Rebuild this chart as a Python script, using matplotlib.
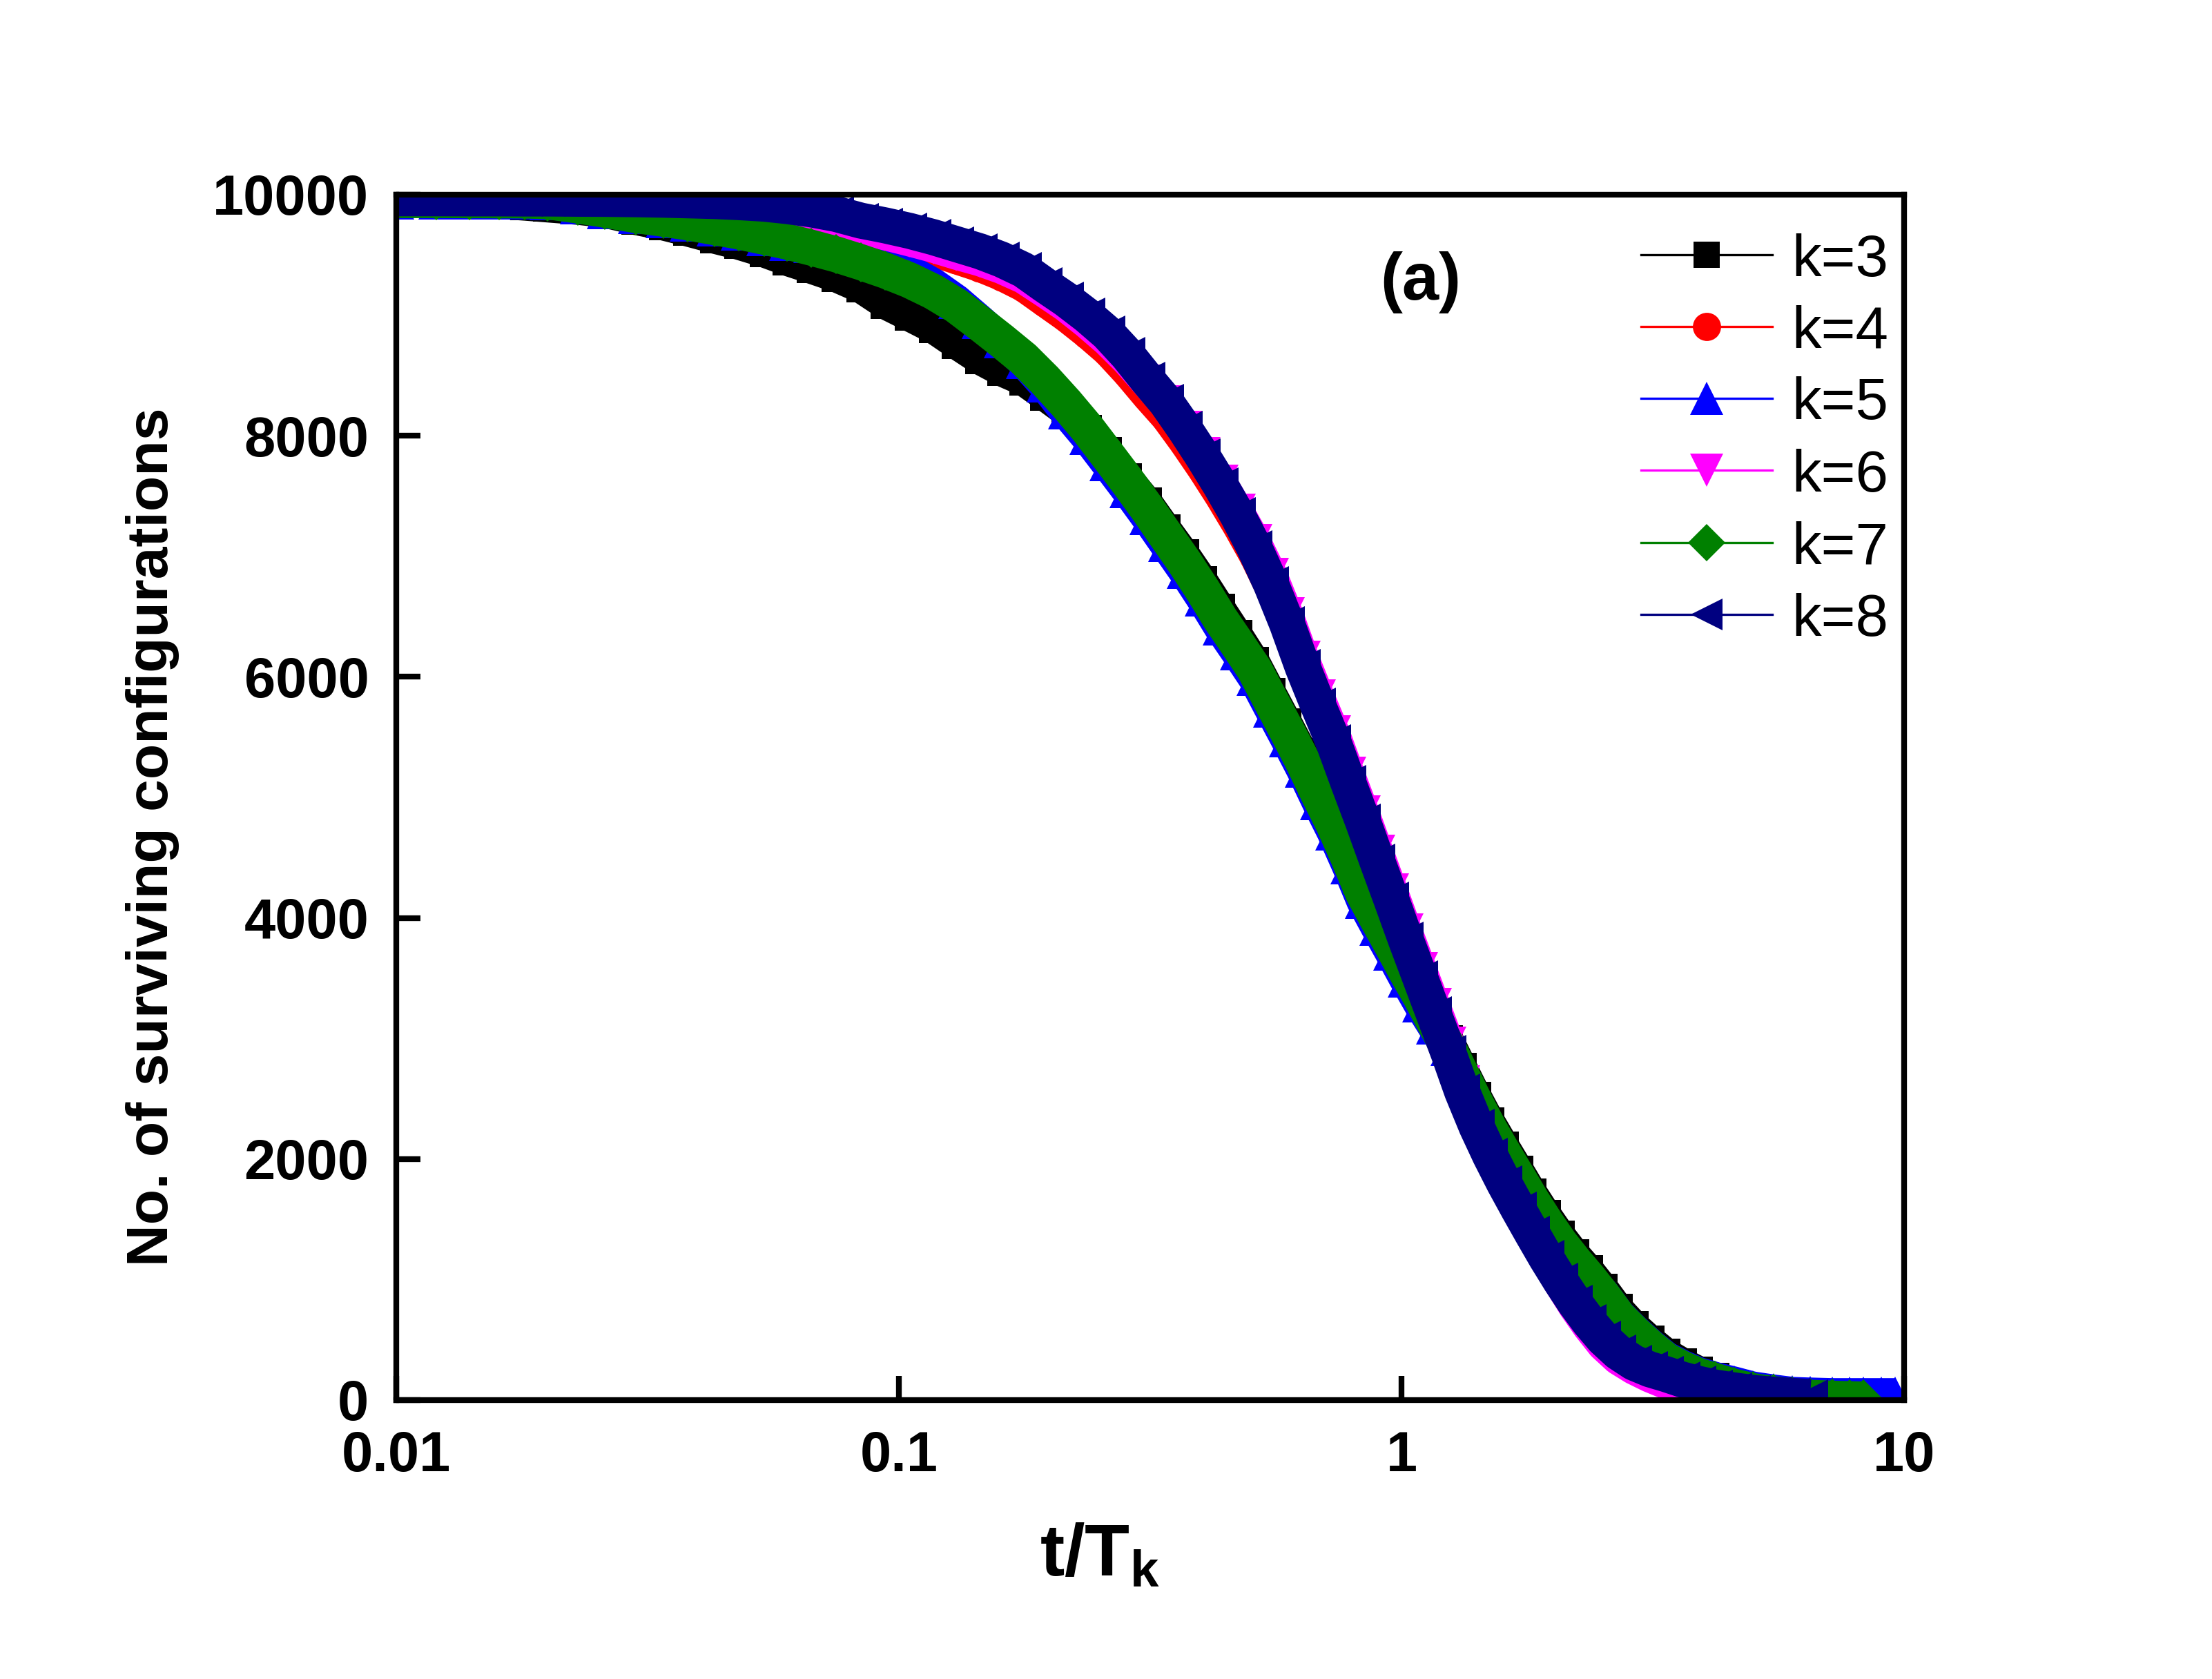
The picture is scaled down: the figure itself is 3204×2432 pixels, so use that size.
import matplotlib
matplotlib.use("Agg")
import matplotlib.pyplot as plt
from matplotlib.lines import Line2D
from matplotlib.ticker import NullLocator

plt.rcParams['font.family'] = ['Liberation Sans', 'DejaVu Sans']
plt.rcParams['mathtext.fontset'] = 'custom'
plt.rcParams['mathtext.rm'] = 'Liberation Sans'
plt.rcParams['mathtext.it'] = 'Liberation Sans:italic'
plt.rcParams['mathtext.bf'] = 'Liberation Sans:bold'

# ---------------- data ----------------
t_over_T = [0.010, 0.012, 0.014, 0.016, 0.018, 0.020, 0.023, 0.026, 0.030, 0.034,
            0.038, 0.043, 0.048, 0.054, 0.060, 0.067, 0.075, 0.084, 0.094, 0.105,
            0.117, 0.130, 0.145, 0.160, 0.177, 0.195, 0.215, 0.237, 0.260, 0.285,
            0.312, 0.340, 0.370, 0.402, 0.436, 0.472, 0.510, 0.550, 0.592, 0.636,
            0.683, 0.732, 0.784, 0.838, 0.895, 0.955, 1.02, 1.09, 1.16, 1.24,
            1.32, 1.41, 1.50, 1.60, 1.71, 1.82, 1.94, 2.07, 2.21, 2.36,
            2.52, 2.70, 2.90, 3.12, 3.36, 3.62, 3.90, 4.2, 4.6, 5.0,
            5.5, 6.0, 6.5, 7.2, 7.8, 8.3, 9.0, 9.6]

k3 = [9950, 9945, 9935, 9925, 9910, 9895, 9875, 9850, 9790, 9745,
      9695, 9635, 9585, 9520, 9450, 9385, 9315, 9225, 9090, 8990,
      8890, 8760, 8630, 8535, 8455, 8330, 8200, 8050, 7870, 7650,
      7450, 7230, 7020, 6800, 6570, 6350, 6130, 5870, 5620, 5370,
      5100, 4850, 4570, 4280, 4060, 3850, 3630, 3420, 3210, 2990,
      2760, 2520, 2310, 2110, 1910, 1720, 1540, 1370, 1215, 1080,
      930, 760, 620, 500, 390, 310, 240, 190, 130, 90]

k4 = [9950, 9950, 9949, 9949, 9948, 9948, 9946, 9945, 9942, 9938,
      9933, 9927, 9918, 9905, 9885, 9838, 9775, 9700, 9645, 9590,
      9528, 9465, 9400, 9327, 9235, 9110, 8985, 8845, 8700, 8520,
      8325, 8150, 7940, 7720, 7490, 7250, 7000, 6720, 6410, 6070,
      5750, 5450, 5110, 4790, 4460, 4140, 3810, 3490, 3190, 2870,
      2550, 2260, 2020, 1780, 1555, 1360, 1160, 960, 775, 610,
      470, 355, 275, 215, 170, 125, 90, 60]

k5 = [9945, 9945, 9944, 9943, 9942, 9935, 9900, 9865, 9820, 9790,
      9760, 9720, 9685, 9640, 9600, 9580, 9555, 9510, 9450, 9365,
      9255, 9120, 8950, 8790, 8620, 8425, 8200, 7990, 7770, 7550,
      7325, 7100, 6880, 6650, 6410, 6200, 5990, 5730, 5480, 5230,
      4960, 4710, 4430, 4140, 3920, 3710, 3490, 3280, 3100, 2920,
      2690, 2450, 2240, 2040, 1840, 1650, 1470, 1300, 1150, 1010,
      880, 710, 580, 460, 350, 280, 220, 180, 140, 100,
      75, 55, 50, 45, 45, 45, 45, 45]

k6 = [9955, 9955, 9954, 9954, 9953, 9953, 9951, 9950, 9947, 9943,
      9938, 9932, 9923, 9910, 9890, 9848, 9795, 9725, 9675, 9625,
      9573, 9515, 9460, 9397, 9315, 9200, 9080, 8940, 8795, 8630,
      8445, 8270, 8060, 7840, 7610, 7370, 7120, 6840, 6510, 6150,
      5830, 5530, 5190, 4870, 4540, 4220, 3890, 3570, 3270, 2950,
      2630, 2320, 2060, 1820, 1590, 1390, 1170, 970, 780, 610,
      460, 345, 265, 200, 145, 100, 70, 45, 25]

k7 = [9955, 9955, 9954, 9953, 9952, 9945, 9910, 9875, 9830, 9800,
      9770, 9730, 9695, 9650, 9610, 9560, 9505, 9440, 9370, 9290,
      9195, 9080, 8930, 8790, 8640, 8465, 8270, 8060, 7840, 7620,
      7395, 7170, 6950, 6720, 6480, 6270, 6060, 5800, 5550, 5300,
      5030, 4780, 4500, 4210, 3990, 3780, 3560, 3350, 3140, 2920,
      2690, 2450, 2240, 2040, 1840, 1650, 1470, 1300, 1150, 1010,
      860, 690, 560, 440, 330, 260, 200, 160, 110, 75,
      50, 30, 20, 12, 8, 5]

k8 = [9970, 9970, 9969, 9969, 9968, 9968, 9966, 9965, 9962, 9958,
      9953, 9947, 9938, 9925, 9905, 9878, 9840, 9785, 9745, 9700,
      9648, 9590, 9530, 9462, 9375, 9250, 9130, 8995, 8850, 8670,
      8465, 8280, 8060, 7830, 7590, 7340, 7070, 6770, 6440, 6080,
      5760, 5460, 5120, 4800, 4470, 4150, 3820, 3500, 3200, 2880,
      2560, 2270, 2030, 1800, 1580, 1380, 1180, 990, 810, 650,
      510, 395, 310, 255, 215, 170, 135, 105, 80, 60,
      45, 35, 25]

labels = ['k=3', 'k=4', 'k=5', 'k=6', 'k=7', 'k=8']
values = [k3, k4, k5, k6, k7, k8]
colors = ['#000000', '#FF0000', '#0000FF', '#FF00FF', '#008000', '#000080']
markers = ['s', 'o', '^', 'v', 'D', '<']
leg_ms = [9.1, 9.8, 11.5, 11.5, 9.0, 11.0]
data_ms = [10.0, 10.5, 12.5, 12.5, 10.0, 12.5]
band_lw = [10.5, 10.5, 11.5, 11.5, 12.5, 12.5]

x_ticks = [0.01, 0.1, 1, 10]
x_ticklabels = ['0.01', '0.1', '1', '10']
y_ticks = [0, 2000, 4000, 6000, 8000, 10000]
y_ticklabels = ['0', '2000', '4000', '6000', '8000', '10000']

# ---------------- figure ----------------
W, H = 3204, 2432
fig = plt.figure(figsize=(W / 300, H / 300), dpi=300)
ax = fig.add_axes([574 / W, 1 - 2028 / H, 2184 / W, 1746 / H])

for i, (yv, c, m, ms, lw) in enumerate(zip(values, colors, markers, data_ms, band_lw)):
    xs = t_over_T[:len(yv)]
    z = 2 + i * 0.01
    ax.plot(xs, yv, color=c, lw=lw, solid_joinstyle='round',
            solid_capstyle='butt', zorder=z)
    ax.plot(xs, yv, ls='none', marker=m, ms=ms, color=c, mec=c, mew=0,
            zorder=z + 0.005)

ax.set_xscale('log')
ax.set_xlim(0.01, 10)
ax.set_ylim(0, 10000)
ax.set_xticks(x_ticks)
ax.set_xticklabels(x_ticklabels)
ax.xaxis.set_minor_locator(NullLocator())
ax.set_yticks(y_ticks)
ax.set_yticklabels(y_ticklabels)

ax.tick_params(axis='both', which='major', direction='in', length=8.5,
               width=2.0, labelsize=19.5, top=False, right=False)
ax.tick_params(axis='x', pad=10.5)
ax.tick_params(axis='y', pad=9.5)
for lab in ax.get_xticklabels() + ax.get_yticklabels():
    lab.set_fontweight('bold')
for sp in ax.spines.values():
    sp.set_linewidth(2.0)

# axis titles
fig.text(221 / W, 1 - 1212 / H, 'No. of surviving configurations',
         rotation=90, ha='center', va='center', fontsize=20.2, fontweight='bold')
fig.text(1593 / W, 1 - 2282 / H, r'$\mathbf{t/T_k}$', ha='center',
         va='baseline', fontsize=25.5)

# panel label
ax.text(0.6795, 0.9273, '(a)', transform=ax.transAxes, ha='center',
        va='center', fontsize=23, fontweight='bold')

# legend (drawn manually)
row_y = [0.9502, 0.8906, 0.8311, 0.7715, 0.7114, 0.6518]
for lab, c, m, ms, yy in zip(labels, colors, markers, leg_ms, row_y):
    ax.add_line(Line2D([0.8255, 0.9125], [yy, yy], transform=ax.transAxes,
                       color=c, lw=0.8, clip_on=False, zorder=5))
    ax.add_line(Line2D([0.869], [yy], transform=ax.transAxes, color=c,
                       marker=m, ms=ms, mew=0, ls='none', clip_on=False,
                       zorder=5))
    ax.text(0.9254, yy - 0.0175, lab, transform=ax.transAxes, ha='left',
            va='baseline', fontsize=20.5, zorder=5)

fig.savefig('out.png', dpi=300)
